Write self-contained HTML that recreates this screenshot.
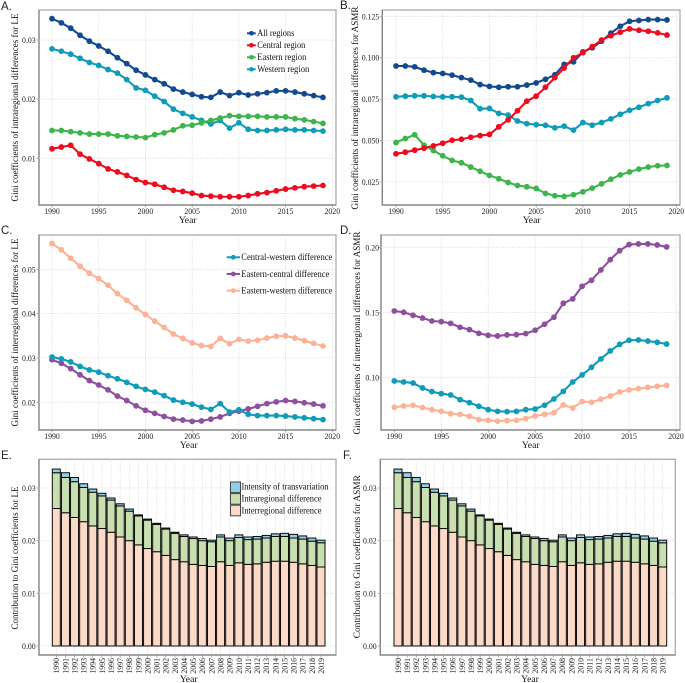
<!DOCTYPE html>
<html lang="en">
<head>
<meta charset="utf-8">
<title>Gini coefficients for LE and ASMR</title>
<style>
html,body{margin:0;padding:0;background:#fff;}
body{width:685px;height:683px;overflow:hidden;}
svg{display:block;filter:blur(0.3px);}
text{font-family:"Liberation Serif",serif;fill:#111;}
.tick{font-size:8.8px;fill:#222;}
.title{font-size:9.5px;fill:#111;}
.year{font-size:9.6px;}
.legend{font-size:9.2px;}
.panel{font-family:"Liberation Sans",sans-serif;font-size:11.5px;fill:#222;}
</style>
</head>
<body>
<svg id="figure" width="685" height="683" viewBox="0 0 685 683" xmlns="http://www.w3.org/2000/svg">
<rect width="685" height="683" fill="#fff"/>

<g>
<text class="panel" x="1" y="10">A.</text>
<g id="marks-a"></g>
<text class="title" transform="translate(18,107.5) rotate(-90)" text-anchor="middle" textLength="188" lengthAdjust="spacingAndGlyphs">Gini coefficients of intraregional differences for LE</text>
<text class="year" x="187.7" y="223" text-anchor="middle">Year</text>
<g>
<g><line x1="247" x2="255.7" y1="33.3" y2="33.3" stroke="#114a8f" stroke-width="2"/><circle cx="251.4" cy="33.3" r="2.3" fill="#114a8f"/><text class="legend" x="257.3" y="36.2" textLength="37" lengthAdjust="spacingAndGlyphs">All regions</text></g>
<g><line x1="247" x2="255.7" y1="45.3" y2="45.3" stroke="#f00a1e" stroke-width="2"/><circle cx="251.4" cy="45.3" r="2.3" fill="#f00a1e"/><text class="legend" x="257.3" y="48.2" textLength="48" lengthAdjust="spacingAndGlyphs">Central region</text></g>
<g><line x1="247" x2="255.7" y1="57.3" y2="57.3" stroke="#3cb54a" stroke-width="2"/><circle cx="251.4" cy="57.3" r="2.3" fill="#3cb54a"/><text class="legend" x="257.3" y="60.2" textLength="49" lengthAdjust="spacingAndGlyphs">Eastern region</text></g>
<g><line x1="247" x2="255.7" y1="69.3" y2="69.3" stroke="#0e9cb8" stroke-width="2"/><circle cx="251.4" cy="69.3" r="2.3" fill="#0e9cb8"/><text class="legend" x="257.3" y="72.2" textLength="52" lengthAdjust="spacingAndGlyphs">Western region</text></g>
</g>
</g>

<g>
<text class="panel" x="340" y="9">B.</text>
<g id="marks-b"></g>
<text class="title" transform="translate(358,108) rotate(-90)" text-anchor="middle" textLength="203" lengthAdjust="spacingAndGlyphs">Gini coefficients of intraregional differences for ASMR</text>
<text class="year" x="531.7" y="223" text-anchor="middle">Year</text>
</g>

<g>
<text class="panel" x="1" y="234">C.</text>
<g id="marks-c"></g>
<text class="title" transform="translate(18,332.5) rotate(-90)" text-anchor="middle" textLength="188" lengthAdjust="spacingAndGlyphs">Gini coefficients of interregional differences for LE</text>
<text class="year" x="188.7" y="448" text-anchor="middle">Year</text>
<g>
<g><line x1="226.7" x2="240" y1="257.3" y2="257.3" stroke="#0e9cb8" stroke-width="2"/><circle cx="233.3" cy="257.3" r="2.4" fill="#0e9cb8"/><text class="legend" x="241.3" y="260.2" textLength="91" lengthAdjust="spacingAndGlyphs">Central-western difference</text></g>
<g><line x1="226.7" x2="240" y1="274" y2="274" stroke="#8e4f9f" stroke-width="2"/><circle cx="233.3" cy="274" r="2.4" fill="#8e4f9f"/><text class="legend" x="241.3" y="276.9" textLength="88" lengthAdjust="spacingAndGlyphs">Eastern-central difference</text></g>
<g><line x1="226.7" x2="240" y1="290.7" y2="290.7" stroke="#fdb296" stroke-width="2"/><circle cx="233.3" cy="290.7" r="2.4" fill="#fdb296"/><text class="legend" x="241.3" y="293.6" textLength="91" lengthAdjust="spacingAndGlyphs">Eastern-western difference</text></g>
</g>
</g>

<g>
<text class="panel" x="340" y="234">D.</text>
<g id="marks-d"></g>
<text class="title" transform="translate(360,333) rotate(-90)" text-anchor="middle" textLength="203" lengthAdjust="spacingAndGlyphs">Gini coefficients of interregional differences for ASMR</text>
<text class="year" x="530.7" y="448" text-anchor="middle">Year</text>
</g>

<g>
<text class="panel" x="1" y="459">E.</text>
<g id="marks-e"></g>
<text class="title" transform="translate(18,558) rotate(-90)" text-anchor="middle" textLength="143" lengthAdjust="spacingAndGlyphs">Contribution to Gini coefficients for LE</text>
<text class="year" x="188.7" y="682" text-anchor="middle">Year</text>
<g>
<g><rect x="230.5" y="482" width="10" height="10.6" fill="#8fd0e8" stroke="#444"/><text class="legend" x="241.5" y="489.6" textLength="87" lengthAdjust="spacingAndGlyphs">Intensity of transvariation</text></g>
<g><rect x="230.5" y="493.6" width="10" height="10.6" fill="#c8e0b0" stroke="#444"/><text class="legend" x="241.5" y="501.6" textLength="80" lengthAdjust="spacingAndGlyphs">Intraregional difference</text></g>
<g><rect x="230.5" y="505.2" width="10" height="10.6" fill="#fdd9c8" stroke="#444"/><text class="legend" x="241.5" y="513.6" textLength="80" lengthAdjust="spacingAndGlyphs">Interregional difference</text></g>
</g>
</g>

<g>
<text class="panel" x="343" y="459">F.</text>
<g id="marks-f"></g>
<text class="title" transform="translate(360,556.7) rotate(-90)" text-anchor="middle" textLength="163" lengthAdjust="spacingAndGlyphs">Contribution to Gini coefficients for ASMR</text>
<text class="year" x="530" y="682" text-anchor="middle">Year</text>
</g>
</svg>

<script>
var years = [1990,1991,1992,1993,1994,1995,1996,1997,1998,1999,2000,2001,2002,2003,2004,2005,2006,2007,2008,2009,2010,2011,2012,2013,2014,2015,2016,2017,2018,2019];
var xTicks = [1990,1995,2000,2005,2010,2015,2020];

var yTicksA = [0.01,0.02,0.03];
var aAll = [.0336,.0329,.032,.0308,.0298,.029,.0281,.027,.026,.0249,.0241,.0233,.0226,.0217,.0212,.0208,.0204,.0203,.0212,.0206,.0211,.0207,.0209,.0211,.0214,.0214,.0212,.0209,.0206,.0203];
var aCentral = [.0116,.0119,.0122,.0107,.0099,.0091,.0082,.0077,.0071,.0064,.0059,.0056,.0051,.0046,.0044,.0041,.0037,.0036,.0035,.0035,.0035,.0037,.004,.0042,.0045,.0048,.005,.0052,.0053,.0054];
var aEastern = [.0147,.0147,.0145,.0143,.0141,.0141,.0141,.0138,.0137,.0136,.0135,.014,.0143,.0148,.0155,.0156,.016,.0164,.0168,.0172,.0171,.0171,.0171,.017,.017,.017,.0167,.0165,.0162,.0159];
var aWestern = [.0285,.0281,.0276,.0269,.0262,.0257,.025,.0244,.0233,.0219,.0215,.0205,.0196,.0183,.0176,.017,.0164,.0158,.0164,.0151,.016,.0149,.0147,.0147,.0148,.0149,.0148,.0148,.0147,.0146];

var yTicksB = [0.025,0.05,0.075,0.1,0.125];
var bAll = [.095,.095,.0945,.0925,.091,.0905,.0895,.088,.0865,.0838,.0827,.0822,.0825,.0825,.0835,.0848,.087,.0897,.096,.0975,.1035,.106,.110,.1148,.119,.122,.1225,.123,.123,.1228];
var bCentral = [.042,.043,.0442,.0454,.0468,.0484,.0502,.0508,.052,.053,.0537,.0583,.0625,.068,.0738,.0768,.0822,.088,.0938,.1,.103,.1067,.1107,.1133,.1154,.1174,.1166,.116,.115,.1137];
var bEastern = [.0488,.0512,.0535,.0472,.044,.0408,.038,.0366,.034,.0315,.029,.027,.0247,.0229,.0221,.0211,.0181,.0167,.0163,.0173,.0191,.0213,.0239,.0267,.0293,.0311,.0328,.034,.0348,.035];
var bWestern = [.0764,.0768,.077,.077,.0766,.0764,.0764,.0762,.0742,.0692,.0694,.0664,.0654,.0618,.0602,.0596,.0592,.0577,.0587,.0563,.0609,.0593,.0609,.0631,.0659,.0683,.0701,.0723,.0742,.0758];

var yTicksC = [0.02,0.03,0.04,0.05];
var cCentralWestern = [.0302,.0298,.0291,.0281,.0273,.0268,.026,.0253,.0245,.0236,.0229,.0223,.0215,.0205,.02,.0196,.0189,.0184,.0197,.0178,.0183,.0173,.017,.017,.017,.0169,.0167,.0165,.0163,.0161];
var cEasternCentral = [.0296,.0288,.0276,.0262,.0249,.0239,.0228,.0214,.0204,.0192,.0182,.0175,.0168,.0162,.016,.0157,.0158,.0162,.0167,.0175,.018,.0185,.0191,.0197,.0201,.0204,.0202,.0199,.0196,.0192];
var cEasternWestern = [.0558,.0544,.0525,.0507,.0491,.0479,.0464,.0445,.043,.0413,.0398,.0383,.0369,.0354,.0344,.0334,.0328,.0326,.0344,.0332,.0342,.0338,.034,.0345,.0349,.035,.0345,.0339,.0333,.0327];

var yTicksD = [0.1,0.15,0.2];
var dCentralWestern = [.0972,.0964,.0956,.0918,.089,.0874,.0864,.0828,.0805,.0777,.0751,.0738,.0736,.0738,.0751,.0756,.0785,.0833,.0892,.0964,.1018,.1077,.1141,.1203,.1254,.1285,.1287,.1279,.1269,.1256];
var dEasternCentral = [.151,.15,.1477,.1456,.1433,.1428,.1415,.1385,.1367,.1338,.1323,.1318,.1326,.1328,.1336,.1362,.1408,.1462,.1569,.1603,.17,.1746,.1826,.1905,.1974,.2021,.2026,.2026,.2018,.2003];
var dEasternWestern = [.0769,.0779,.0785,.0767,.0751,.0738,.072,.0715,.07,.0674,.0669,.0662,.0667,.0669,.0682,.0703,.0715,.0728,.0787,.0764,.0813,.0808,.0831,.0856,.0887,.0903,.0913,.0923,.0931,.0938];

var yTicksBars = [0,0.01,0.02,0.03];
var eInter = [.0261,.0253,.0244,.0236,.0228,.0223,.0216,.0207,.02,.0192,.0185,.0179,.0172,.0164,.016,.0155,.0153,.0151,.016,.0153,.0158,.0155,.0156,.0159,.0161,.0161,.0159,.0156,.0153,.015];
var eIntra = [.0068,.0067,.0068,.0065,.0064,.0062,.0061,.0059,.0056,.0055,.0054,.0052,.005,.005,.0048,.0049,.0047,.0047,.0047,.0047,.0048,.0047,.0047,.0046,.0047,.0047,.0046,.0047,.0046,.0046];
var eTrans = [.0007,.0009,.0008,.0007,.0006,.0005,.0004,.0004,.0004,.0002,.0002,.0002,.0002,.0002,.0003,.0003,.0004,.0003,.0004,.0005,.0005,.0005,.0005,.0005,.0005,.0006,.0007,.0006,.0006,.0005];
var fInter = [.0261,.0253,.0244,.0236,.0228,.0223,.0216,.0207,.02,.0192,.0185,.0179,.0172,.0164,.016,.0155,.0153,.0151,.016,.0153,.0158,.0155,.0156,.0159,.0161,.0161,.0159,.0156,.0153,.015];
var fIntra = [.0068,.0067,.0068,.0065,.0064,.0062,.0061,.0059,.0056,.0055,.0054,.0052,.005,.005,.0048,.0049,.0047,.0047,.0047,.0047,.0048,.0047,.0047,.0046,.0047,.0047,.0046,.0047,.0046,.0046];
var fTrans = [.0007,.0009,.0008,.0007,.0006,.0005,.0004,.0004,.0004,.0002,.0002,.0002,.0002,.0002,.0003,.0003,.0004,.0003,.0004,.0005,.0005,.0005,.0005,.0005,.0005,.0006,.0007,.0006,.0006,.0005];

var NS = 'http://www.w3.org/2000/svg';
function scale(d0, r0, d1, r1) {
  return function (v) { return r0 + (v - d0) * (r1 - r0) / (d1 - d0); };
}
function el(parent, tag, attrs) {
  var n = document.createElementNS(NS, tag);
  for (var k in attrs) n.setAttribute(k, attrs[k]);
  parent.appendChild(n);
  return n;
}
function tickWidth(str) {
  return (str.replace('.', '').length * 0.5 + (str.indexOf('.') >= 0 ? 0.25 : 0)) * 7.8;
}
function frame(g, box) {
  var bg = el(g, 'rect', {x: box.x0, y: box.y0, width: box.x1 - box.x0, height: box.y1 - box.y0, fill: '#fff', stroke: '#aaaaaa', 'stroke-width': 1.3});
  
  
  var axes = el(g, 'path', {d: 'M' + box.x0 + ' ' + box.y0 + 'V' + box.y1 + 'H' + box.x1, fill: 'none', stroke: '#7d7d7d', 'stroke-width': 1.2});
  
  
}
function gridV(g, box, x) {
  var line = el(g, 'line', {x1: x, x2: x, y1: box.y0, y2: box.y1, stroke: '#d8d8d8', 'stroke-width': 0.8, 'stroke-dasharray': '1 1.3'});
  
  
}
function yAxis(g, box, ticks, y, digits, labelRight) {
  ticks.forEach(function (t) {
    var py = y(t);
    var line = el(g, 'line', {x1: box.x0, x2: box.x1, y1: py, y2: py, stroke: '#d8d8d8', 'stroke-width': 0.8, 'stroke-dasharray': '1 1.3'});
    
    
    var tk = el(g, 'line', {x1: box.x0 - 2.5, x2: box.x0, y1: py, y2: py, stroke: '#888', 'stroke-width': 0.7});
    
    
    var str = t.toFixed(digits);
    var lb = el(g, 'text', {x: labelRight, y: py + 3, 'text-anchor': 'end', 'class': 'tick', textLength: tickWidth(str), lengthAdjust: 'spacingAndGlyphs'});
    lb.textContent = str;
    
    
  });
}
function lineChart(id, box, x, y, ticks, digits, labelRight, series) {
  var g = document.getElementById(id);
  frame(g, box);
  yAxis(g, box, ticks, y, digits, labelRight);
  xTicks.forEach(function (t) {
    var px = x(t);
    gridV(g, box, px);
    var tk = el(g, 'line', {x1: px, x2: px, y1: box.y1, y2: box.y1 + 2.5, stroke: '#888', 'stroke-width': 0.7});
    
    
    var lb = el(g, 'text', {x: px, y: box.y1 + 9, 'text-anchor': 'middle', 'class': 'tick', textLength: tickWidth(String(t)), lengthAdjust: 'spacingAndGlyphs'});
    lb.textContent = t;
    
    
  });
  series.forEach(function (s) {
    var sg = el(g, 'g', {});
    
    
    var pts = s.values.map(function (v, i) { return x(years[i]).toFixed(2) + ',' + y(v).toFixed(2); }).join(' ');
    var pl = el(sg, 'polyline', {points: pts, fill: 'none', stroke: s.color, 'stroke-width': 2.1});
    
    
    s.values.forEach(function (v, i) {
      var c = el(sg, 'circle', {cx: x(years[i]), cy: y(v), r: 2.9, fill: s.color});
      
      
    });
  });
}
function barChart(id, box, x, y, barW, labelRight, inter, intra, trans) {
  var g = document.getElementById(id);
  frame(g, box);
  yAxis(g, box, yTicksBars, y, 2, labelRight);
  years.forEach(function (yr, i) {
    var px = x(yr);
    gridV(g, box, px);
    var tk = el(g, 'line', {x1: px, x2: px, y1: box.y1, y2: box.y1 + 2.5, stroke: '#888', 'stroke-width': 0.7});
    
    
    var lb = el(g, 'text', {transform: 'translate(' + (px + 2.9) + ',' + (box.y1 + 3) + ') rotate(-90)', 'text-anchor': 'end', 'class': 'tick', textLength: tickWidth(String(yr)), lengthAdjust: 'spacingAndGlyphs'});
    lb.textContent = yr;
    
    
  });
  years.forEach(function (yr, i) {
    var px = x(yr) - barW / 2;
    var a = inter[i], b = a + intra[i], c = b + trans[i];
    var r1 = el(g, 'rect', {x: px, y: y(a), width: barW, height: y(0) - y(a), fill: '#fdd9c8', stroke: '#000', 'stroke-width': 0.95});
    
    
    var r2 = el(g, 'rect', {x: px, y: y(b), width: barW, height: y(a) - y(b), fill: '#c8e0b0', stroke: '#000', 'stroke-width': 0.95});
    
    
    var r3 = el(g, 'rect', {x: px, y: y(c), width: barW, height: y(b) - y(c), fill: '#8fd0e8', stroke: '#000', 'stroke-width': 0.95});
    
    
  });
}

var NAVY = '#114a8f', RED = '#f00a1e', GREEN = '#3cb54a', TEAL = '#0e9cb8', PURPLE = '#8e4f9f', PEACH = '#fdb296';

lineChart('marks-a', {x0: 39, x1: 336, y0: 10, y1: 205},
  scale(1990, 52, 2020, 332.3), scale(0.01, 158.3, 0.03, 40), yTicksA, 2, 35.7, [
  {name: 'series-western', values: aWestern, color: TEAL},
  {name: 'series-eastern', values: aEastern, color: GREEN},
  {name: 'series-central', values: aCentral, color: RED},
  {name: 'series-all', values: aAll, color: NAVY}
]);
lineChart('marks-b', {x0: 382.3, x1: 680, y0: 10, y1: 205},
  scale(1990, 396, 2020, 676.3), scale(0.025, 182, 0.125, 16.3), yTicksB, 3, 379.3, [
  {name: 'series-all', values: bAll, color: NAVY},
  {name: 'series-western', values: bWestern, color: TEAL},
  {name: 'series-eastern', values: bEastern, color: GREEN},
  {name: 'series-central', values: bCentral, color: RED}
]);
lineChart('marks-c', {x0: 39, x1: 336, y0: 235, y1: 430},
  scale(1990, 52, 2020, 332.3), scale(0.02, 402.3, 0.05, 269.3), yTicksC, 2, 35.7, [
  {name: 'series-eastern-western', values: cEasternWestern, color: PEACH},
  {name: 'series-eastern-central', values: cEasternCentral, color: PURPLE},
  {name: 'series-central-western', values: cCentralWestern, color: TEAL}
]);
lineChart('marks-d', {x0: 381, x1: 680, y0: 235, y1: 430},
  scale(1990, 394.3, 2020, 676), scale(0.1, 377.3, 0.2, 247.3), yTicksD, 2, 379, [
  {name: 'series-eastern-western', values: dEasternWestern, color: PEACH},
  {name: 'series-central-western', values: dCentralWestern, color: TEAL},
  {name: 'series-eastern-central', values: dEasternCentral, color: PURPLE}
]);
barChart('marks-e', {x0: 39, x1: 336, y0: 459.3, y1: 655},
  scale(1990, 56.3, 2019, 321), scale(0, 646, 0.03, 488), 8, 35.7, eInter, eIntra, eTrans);
barChart('marks-f', {x0: 380.3, x1: 675.3, y0: 459.3, y1: 655},
  scale(1990, 398, 2019, 662.7), scale(0, 646, 0.03, 488), 8, 376.7, fInter, fIntra, fTrans);
</script>
</body>
</html>
